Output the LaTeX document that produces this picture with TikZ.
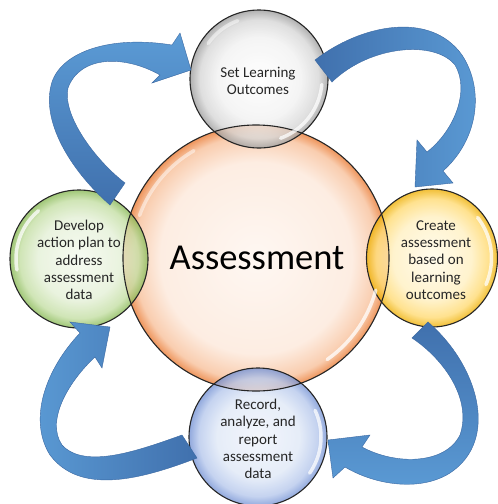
\documentclass[tikz,border=0pt]{standalone}
\usepackage{fontspec}
\setmainfont{Carlito}
\usetikzlibrary{shapes.geometric}

\definecolor{bigA}{HTML}{FEF7F2}
\definecolor{bigB}{HTML}{FDEDE2}
\definecolor{bigC}{HTML}{F9CDAF}
\definecolor{bigD}{HTML}{EE955C}
\definecolor{grA}{HTML}{FFFFFF}
\definecolor{grB}{HTML}{F2F2F2}
\definecolor{grC}{HTML}{D6D6D6}
\definecolor{grD}{HTML}{9C9C9C}
\definecolor{gnA}{HTML}{F5FAEF}
\definecolor{gnB}{HTML}{E4F0D6}
\definecolor{gnC}{HTML}{C3DEA2}
\definecolor{gnD}{HTML}{86B852}
\definecolor{yeA}{HTML}{FFFBE8}
\definecolor{yeB}{HTML}{FFF0C0}
\definecolor{yeC}{HTML}{FFDA70}
\definecolor{yeD}{HTML}{EEAE00}
\definecolor{blA}{HTML}{F0F4FB}
\definecolor{blB}{HTML}{DFE8F7}
\definecolor{blC}{HTML}{B5C7EC}
\definecolor{blD}{HTML}{7391D4}
\definecolor{arrdark}{HTML}{4070AD}
\definecolor{arrlight}{HTML}{5B9BD5}
\definecolor{arredge}{HTML}{3A68A2}
\definecolor{txtcol}{HTML}{262626}

\pgfdeclareradialshading{bigshade}{\pgfpoint{0bp}{0bp}}{color(0bp)=(bigA); color(18bp)=(bigB); color(23bp)=(bigC); color(25bp)=(bigD); color(50bp)=(bigD)}
\pgfdeclareradialshading{grayshade}{\pgfpoint{0bp}{0bp}}{color(0bp)=(grA); color(15bp)=(grB); color(21.5bp)=(grC); color(25bp)=(grD); color(50bp)=(grD)}
\pgfdeclareradialshading{greenshade}{\pgfpoint{0bp}{0bp}}{color(0bp)=(gnA); color(15bp)=(gnB); color(21.5bp)=(gnC); color(25bp)=(gnD); color(50bp)=(gnD)}
\pgfdeclareradialshading{yellowshade}{\pgfpoint{0bp}{0bp}}{color(0bp)=(yeA); color(15bp)=(yeB); color(21.5bp)=(yeC); color(25bp)=(yeD); color(50bp)=(yeD)}
\pgfdeclareradialshading{blueshade}{\pgfpoint{0bp}{0bp}}{color(0bp)=(blA); color(15bp)=(blB); color(21.5bp)=(blC); color(25bp)=(blD); color(50bp)=(blD)}

\begin{document}
\begin{tikzpicture}[x=1pt,y=-1pt,
  bubble/.style={circle, inner sep=0pt, outer sep=0pt, minimum size=138pt, fill opacity=0.78},
  rim/.style={draw=black!85, line width=1.1pt},
  gloss/.style={draw=white, line width=3.5pt, line cap=round, opacity=0.75},
  arr/.style={draw=arredge, line width=0.4pt, line join=miter},
  txt/.style={text=txtcol, align=center, inner sep=0pt, font=\fontsize{15}{17.4}\selectfont}]
\useasboundingbox (0,0) rectangle (498,504);
\fill[white] (0,0) rectangle (498,504);
\clip (0,0) rectangle (498,504);

% central circle
\node[circle, inner sep=0pt, outer sep=0pt, minimum size=266pt, shading=bigshade] (big) at (256,258) {};

% surrounding bubbles
\node[bubble, shading=grayshade] (top) at (259,79) {};
\node[bubble, shading=greenshade] (left) at (79,259) {};
\node[ellipse, inner sep=0pt, outer sep=0pt, minimum width=131pt, minimum height=138pt, fill opacity=0.78, shading=yellowshade] (right) at (432,258) {};
\node[bubble, shading=blueshade] (bottom) at (258,437) {};

% outlines
\draw[rim] (big.center) circle[radius=133pt];
\draw[rim] (top.center) circle[radius=69pt];
\draw[rim] (left.center) circle[radius=69pt];
\draw[rim] (right.center) ellipse[x radius=65.5pt, y radius=69pt];
\draw[rim] (bottom.center) circle[radius=69pt];

% gloss highlights
\draw[gloss] plot[smooth, domain=15:55, samples=20] ({256+124*cos(\x)},{258+124*sin(\x)});
\draw[gloss, opacity=0.5] plot[smooth, domain=200:240, samples=20] ({256+124*cos(\x)},{258+124*sin(\x)});
\draw[gloss] plot[smooth, domain=5:70, samples=20] ({259+63*cos(\x)},{79+63*sin(\x)});
\draw[gloss, opacity=0.5] plot[smooth, domain=215:250, samples=20] ({259+62*cos(\x)},{79+62*sin(\x)});
\draw[gloss] plot[smooth, domain=170:230, samples=20] ({79+63*cos(\x)},{259+63*sin(\x)});
\draw[gloss] plot[smooth, domain=-40:25, samples=20] ({432+59.5*cos(\x)},{258+63*sin(\x)});
\draw[gloss] plot[smooth, domain=-25:35, samples=20] ({258+63*cos(\x)},{437+63*sin(\x)});

% arrows
\path[arr, bottom color=arrdark, top color=arrlight] (110,205)
  .. controls (70,170) and (40,120) .. (52,82)
  .. controls (62,52) and (110,35) .. (172,45)
  -- (180,33) -- (191,70) -- (152,83) -- (160,75)
  .. controls (125,55) and (80,55) .. (68,88)
  .. controls (62,115) and (95,160) .. (125,183) -- cycle;

\path[arr, left color=arrdark, right color=arrlight] (315,60)
  .. controls (360,25) and (430,10) .. (462,55)
  .. controls (485,90) and (478,140) .. (443,171)
  -- (453,183) -- (415,187) -- (417,140) -- (427,152)
  .. controls (455,130) and (470,90) .. (455,65)
  .. controls (435,40) and (370,45) .. (332,82) -- cycle;

\path[arr, top color=arrdark, bottom color=arrlight] (428,322)
  .. controls (478,365) and (500,440) .. (450,473)
  .. controls (420,492) and (375,485) .. (345,467)
  -- (333,478) -- (328,440) -- (370,435) -- (362,447)
  .. controls (395,465) and (445,465) .. (460,435)
  .. controls (472,400) and (445,360) .. (412,338) -- cycle;

\path[arr, right color=arrdark, left color=arrlight] (197,458)
  .. controls (140,480) and (80,495) .. (50,455)
  .. controls (28,420) and (45,370) .. (80,333)
  -- (70,322) -- (110,327) -- (102,368) -- (95,357)
  .. controls (70,380) and (45,420) .. (62,445)
  .. controls (85,470) and (140,450) .. (182,435) -- cycle;

% texts
\node[text=black, inner sep=0pt, font=\fontsize{36.5}{40}\selectfont] (center) at (257,258) {Assessment};
\node[txt] (ttop) at (258,81) {Set Learning\\Outcomes};
\node[txt] (tleft) at (79,260) {Develop\\action plan to\\address\\assessment\\data};
\node[txt] (tright) at (436,260) {Create\\assessment\\based on\\learning\\outcomes};
\node[txt] (tbottom) at (258,439) {Record,\\analyze, and\\report\\assessment\\data};
\end{tikzpicture}
\end{document}
